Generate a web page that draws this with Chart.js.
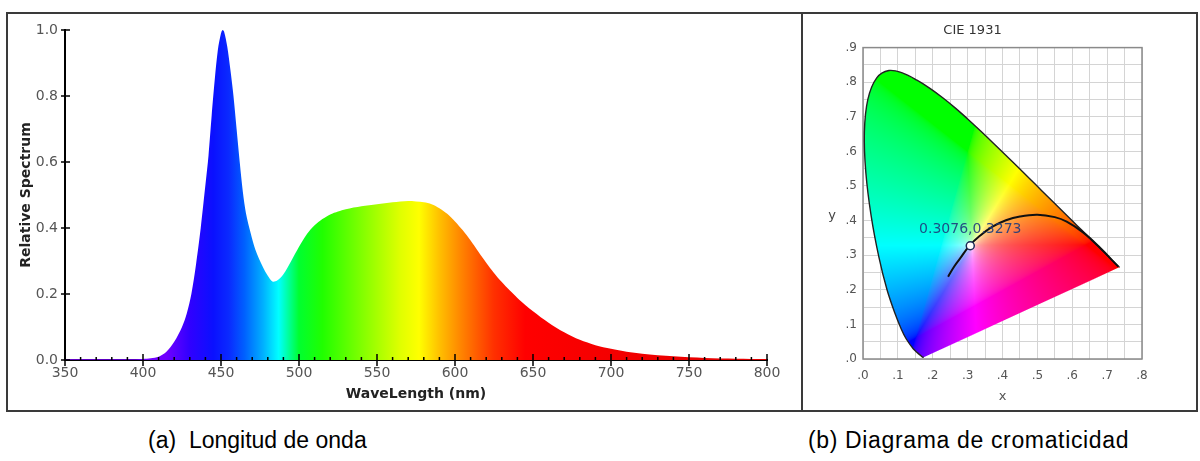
<!DOCTYPE html>
<html>
<head>
<meta charset="utf-8">
<script src="https://cdn.jsdelivr.net/npm/chart.js@4.4.1/dist/chart.umd.min.js"></script>
<style>
  html, body { margin: 0; padding: 0; background: #fff; }
  body { width: 1200px; height: 461px; position: relative; overflow: hidden; }
  #frame { position: absolute; left: 6px; top: 12px; width: 1188px; height: 396px; border: 2px solid #3a3a3a; }
  #divider { position: absolute; left: 801px; top: 12px; width: 2px; height: 400px; background: #3a3a3a; }
  #leftBox { position: absolute; left: 8px; top: 14px; width: 793px; height: 396px; }
  #rightBox { position: absolute; left: 803px; top: 14px; width: 393px; height: 396px; }
  .caption { position: absolute; top: 429px; font-family: 'Liberation Sans', Arial, sans-serif; font-size: 23px; line-height: 23px; color: #000; white-space: pre; }
</style>
</head>
<body>
<div id="frame"></div>
<div id="divider"></div>
<div id="leftBox"><canvas id="spectrumChart"></canvas></div>
<div id="rightBox"><canvas id="cieChart"></canvas></div>
<div class="caption" style="left:148px;">(a)  Longitud de onda</div>
<div class="caption" style="left:808px; letter-spacing:0.65px;">(b) Diagrama de cromaticidad</div>

<script>
// spectrum (left)
const wavelengths = [350,380,400,405,410,415,420,425,428,431,434,437,440,442,444,446,448,450,451,452,454,456,458,460,462,464,466,469,472,477,480,483,486,490,495,500,505,510,515,520,525,530,540,550,560,570,580,585,590,595,600,605,610,615,620,625,630,635,640,645,650,660,670,680,690,700,710,720,740,760,780,800];
const relSpectrum = [0.002,0.002,0.003,0.005,0.01,0.025,0.055,0.10,0.14,0.20,0.29,0.40,0.53,0.62,0.74,0.85,0.94,0.99,1.0,0.995,0.95,0.88,0.80,0.70,0.60,0.51,0.445,0.385,0.335,0.28,0.255,0.238,0.241,0.26,0.30,0.343,0.381,0.408,0.427,0.441,0.45,0.457,0.466,0.472,0.478,0.482,0.478,0.472,0.46,0.443,0.42,0.393,0.362,0.328,0.295,0.264,0.236,0.211,0.188,0.167,0.148,0.113,0.084,0.061,0.045,0.034,0.025,0.019,0.011,0.006,0.004,0.003];

// rainbow used for the fill
const rainbowNm = [350,415,430,445,455,465,477,487,500,515,540,565,577,590,605,625,645,800];
const rainbowColors = ['#8000ff','#7000ff','#3000ff','#0a10ff','#0a2aff','#0060ff','#00b0ff','#00ffff','#00ff30','#20ff00','#80ff00','#e0ff00','#ffff00','#ffc000','#ff8000','#ff3000','#ff0000','#e00000'];

// CIE 1931 (right)
const locusX = [0.1741,0.1714,0.1689,0.1644,0.1566,0.1440,0.1241,0.1096,0.0913,0.0687,0.0454,0.0235,0.0082,0.0039,0.0139,0.0389,0.0743,0.1142,0.1547,0.1929,0.2296,0.2658,0.3016,0.3373,0.3731,0.4087,0.4441,0.4788,0.5125,0.5448,0.5752,0.6029,0.6270,0.6658,0.6915,0.7079,0.7190,0.7260,0.7300,0.7334,0.7347];
const locusY = [0.0050,0.0051,0.0069,0.0109,0.0177,0.0297,0.0578,0.0868,0.1327,0.2007,0.2950,0.4127,0.5384,0.6548,0.7502,0.8120,0.8338,0.8262,0.8059,0.7816,0.7543,0.7243,0.6923,0.6589,0.6245,0.5896,0.5547,0.5202,0.4866,0.4544,0.4242,0.3965,0.3725,0.3340,0.3083,0.2920,0.2809,0.2740,0.2700,0.2666,0.2653];
const curveX = [0.244,0.262,0.278,0.305,0.335,0.37,0.41,0.45,0.5,0.55,0.584,0.631,0.679,0.732];
const curveY = [0.238,0.268,0.29,0.327,0.356,0.382,0.401,0.412,0.417,0.41,0.397,0.366,0.322,0.267];
const whitePoint = [0.3076, 0.3273];

Chart.defaults.font.family = "'DejaVu Sans', sans-serif";

const spectrumPts = wavelengths.map((w, i) => ({ x: w, y: relSpectrum[i] }));

function rainbowFill(context) {
    const chart = context.chart;
    if (!chart.chartArea) return 'rgba(0,0,0,0)';
    const x = chart.scales.x;
    const x0 = x.getPixelForValue(350), x1 = x.getPixelForValue(800);
    const g = chart.ctx.createLinearGradient(x0, 0, x1, 0);
    rainbowNm.forEach((nm, i) => g.addColorStop((nm - 350) / 450, rainbowColors[i]));
    return g;
}

const spectrumTicks = {
    id: 'spectrumTicks',
    afterDatasetsDraw(chart) {
        const { ctx, scales: { x, y } } = chart;
        const y0 = y.getPixelForValue(0);
        const x0 = x.getPixelForValue(350);
        ctx.save();
        ctx.strokeStyle = '#000';
        ctx.lineWidth = 1.5;
        ctx.beginPath();
        for (let w = 350; w <= 800; w += 10) {
            const px = x.getPixelForValue(w);
            if (w % 50 === 0) { ctx.moveTo(px, y0 - 6); ctx.lineTo(px, y0 + 6); }
            else { ctx.moveTo(px, y0 - 3); ctx.lineTo(px, y0); }
        }
        for (let k = 0; k <= 5; k++) {
            const py = y.getPixelForValue(k * 0.2);
            ctx.moveTo(x0 - 4, py); ctx.lineTo(x0 + 5, py);
        }
        ctx.stroke();
        ctx.restore();
    }
};

new Chart(document.getElementById('spectrumChart'), {
    type: 'line',
    data: {
        datasets: [{
            data: spectrumPts,
            fill: 'origin',
            backgroundColor: rainbowFill,
            borderWidth: 0,
            pointRadius: 0,
            tension: 0.3
        }]
    },
    options: {
        responsive: true,
        maintainAspectRatio: false,
        animation: false,
        layout: { padding: { left: 0, right: 34, top: 16, bottom: 0 } },
        plugins: { legend: { display: false }, tooltip: { enabled: false } },
        scales: {
            x: {
                type: 'linear', min: 350, max: 800, z: 1,
                afterFit: s => { s.height = 50; },
                grid: { display: false, drawTicks: false },
                border: { color: '#000', width: 2 },
                ticks: { stepSize: 50, color: '#555', font: { size: 14 }, padding: 5, maxRotation: 0 },
                title: { display: true, text: 'WaveLength (nm)', color: '#222', font: { size: 14, weight: 'bold' }, padding: { top: 0, bottom: 7 } }
            },
            y: {
                min: 0, max: 1, z: 1,
                afterFit: s => { s.width = 57; },
                grid: { display: false, drawTicks: false },
                border: { color: '#000', width: 2 },
                ticks: { stepSize: 0.2, color: '#555', font: { size: 14 }, padding: 7, callback: v => v.toFixed(1) },
                title: { display: true, text: 'Relative Spectrum', color: '#222', font: { size: 14, weight: 'bold' }, padding: { top: 10, bottom: 0 } }
            }
        }
    },
    plugins: [spectrumTicks]
});

// chromaticity colours, computed per pixel through the chart scales
function xyToRgb(cx, cy) {
    const X = cx, Y = cy, Z = 1 - cx - cy;
    let r = 3.2406 * X - 1.5372 * Y - 0.4986 * Z;
    let g = -0.9689 * X + 1.8758 * Y + 0.0415 * Z;
    let b = 0.0557 * X - 0.2040 * Y + 1.0570 * Z;
    r = Math.max(r, 0); g = Math.max(g, 0); b = Math.max(b, 0);
    const m = Math.max(r, g, b) || 1;
    const c = [r, g, b].map(v => {
        v /= m;
        return v <= 0.0031308 ? 12.92 * v : 1.055 * Math.pow(v, 1 / 2.4) - 0.055;
    });
    // boost saturation, the original plot is much more vivid
    const s = 1 - Math.min(c[0], c[1], c[2]);
    const k = s > 0 ? Math.pow(s, 0.45) / s : 1;
    return c.map(v => Math.round(255 * (1 - (1 - v) * k)));
}

let cieFill = null;
function chromaPattern(context) {
    const chart = context.chart;
    const area = chart.chartArea;
    if (!area) return 'rgba(0,0,0,0)';
    if (cieFill) return cieFill;
    const off = document.createElement('canvas');
    off.width = chart.width;
    off.height = chart.height;
    const octx = off.getContext('2d');
    const img = octx.createImageData(off.width, off.height);
    const { x, y } = chart.scales;
    for (let py = Math.floor(area.top); py < Math.ceil(area.bottom); py++) {
        const cy = y.getValueForPixel(py + 0.5);
        for (let px = Math.floor(area.left); px < Math.ceil(area.right); px++) {
            const cx = x.getValueForPixel(px + 0.5);
            const rgb = xyToRgb(cx, Math.max(cy, 0.001));
            const i = (py * off.width + px) * 4;
            img.data[i] = rgb[0]; img.data[i + 1] = rgb[1]; img.data[i + 2] = rgb[2]; img.data[i + 3] = 255;
        }
    }
    octx.putImageData(img, 0, 0);
    cieFill = chart.ctx.createPattern(off, 'no-repeat');
    return cieFill;
}

const locusPts = locusX.map((v, i) => ({ x: v, y: locusY[i] }));
locusPts.push({ x: locusX[0], y: locusY[0] });
const curvePts = curveX.map((v, i) => ({ x: v, y: curveY[i] }));

const decimalTick = v => {
    const t = Math.round(v * 100);
    return t % 10 === 0 ? '.' + (t / 10) : '';
};

const cieDecor = {
    id: 'cieDecor',
    beforeDatasetsDraw(chart) {
        const { ctx, chartArea: a } = chart;
        ctx.save();
        ctx.strokeStyle = '#8a8a8a';
        ctx.lineWidth = 1.5;
        ctx.strokeRect(a.left, a.top, a.right - a.left, a.bottom - a.top);
        ctx.fillStyle = '#444';
        ctx.font = "13px 'DejaVu Sans'";
        ctx.textAlign = 'center';
        ctx.textBaseline = 'middle';
        ctx.fillText('y', a.left - 31, (a.top + a.bottom) / 2 + 12);
        ctx.restore();
    },
    afterDatasetsDraw(chart) {
        const { ctx, scales: { x, y } } = chart;
        const px = x.getPixelForValue(whitePoint[0]);
        const py = y.getPixelForValue(whitePoint[1]);
        ctx.save();
        ctx.fillStyle = 'rgba(30,60,125,0.9)';
        ctx.font = "14px 'DejaVu Sans'";
        ctx.textAlign = 'center';
        ctx.textBaseline = 'middle';
        ctx.fillText(whitePoint[0].toFixed(4) + ',' + whitePoint[1].toFixed(4), px, py - 16);
        ctx.restore();
    }
};

const lastSeg = locusPts.length - 2;

new Chart(document.getElementById('cieChart'), {
    type: 'scatter',
    data: {
        datasets: [
            {
                data: locusPts,
                showLine: true,
                fill: 'shape',
                backgroundColor: chromaPattern,
                borderColor: '#222',
                borderWidth: 1.4,
                pointRadius: 0,
                tension: 0.35,
                order: 3,
                segment: { borderColor: c => c.p0DataIndex === lastSeg ? 'rgba(0,0,0,0)' : undefined }
            },
            {
                data: curvePts,
                showLine: true,
                fill: false,
                borderColor: '#111',
                borderWidth: 2,
                pointRadius: 0,
                tension: 0.4,
                order: 2
            },
            {
                data: [{ x: whitePoint[0], y: whitePoint[1] }],
                pointRadius: 4,
                pointBackgroundColor: '#fff',
                pointBorderColor: '#1b2a55',
                pointBorderWidth: 1.5,
                order: 1
            }
        ]
    },
    options: {
        responsive: true,
        maintainAspectRatio: false,
        animation: false,
        layout: { padding: { left: 0, right: 54, top: 1, bottom: 0 } },
        plugins: {
            legend: { display: false },
            tooltip: { enabled: false },
            title: { display: true, text: 'CIE 1931', color: '#333', font: { size: 13, weight: 'normal' }, padding: { top: 8, bottom: 9 } }
        },
        scales: {
            x: {
                type: 'linear', min: 0, max: 0.8,
                afterFit: s => { s.height = 51; },
                grid: { color: '#d4d4d4', drawTicks: false },
                border: { display: false },
                ticks: { stepSize: 0.05, autoSkip: false, maxRotation: 0, color: '#555', font: { size: 12 }, padding: 10, callback: decimalTick },
                title: { display: true, text: 'x', color: '#555', font: { size: 13 }, padding: { top: 0, bottom: 6 } }
            },
            y: {
                min: 0, max: 0.9,
                afterFit: s => { s.width = 60; },
                grid: { color: '#d4d4d4', drawTicks: false },
                border: { display: false },
                ticks: { stepSize: 0.05, autoSkip: false, color: '#555', font: { size: 12 }, padding: 6, callback: decimalTick }
            }
        }
    },
    plugins: [cieDecor]
});
</script>
</body>
</html>
